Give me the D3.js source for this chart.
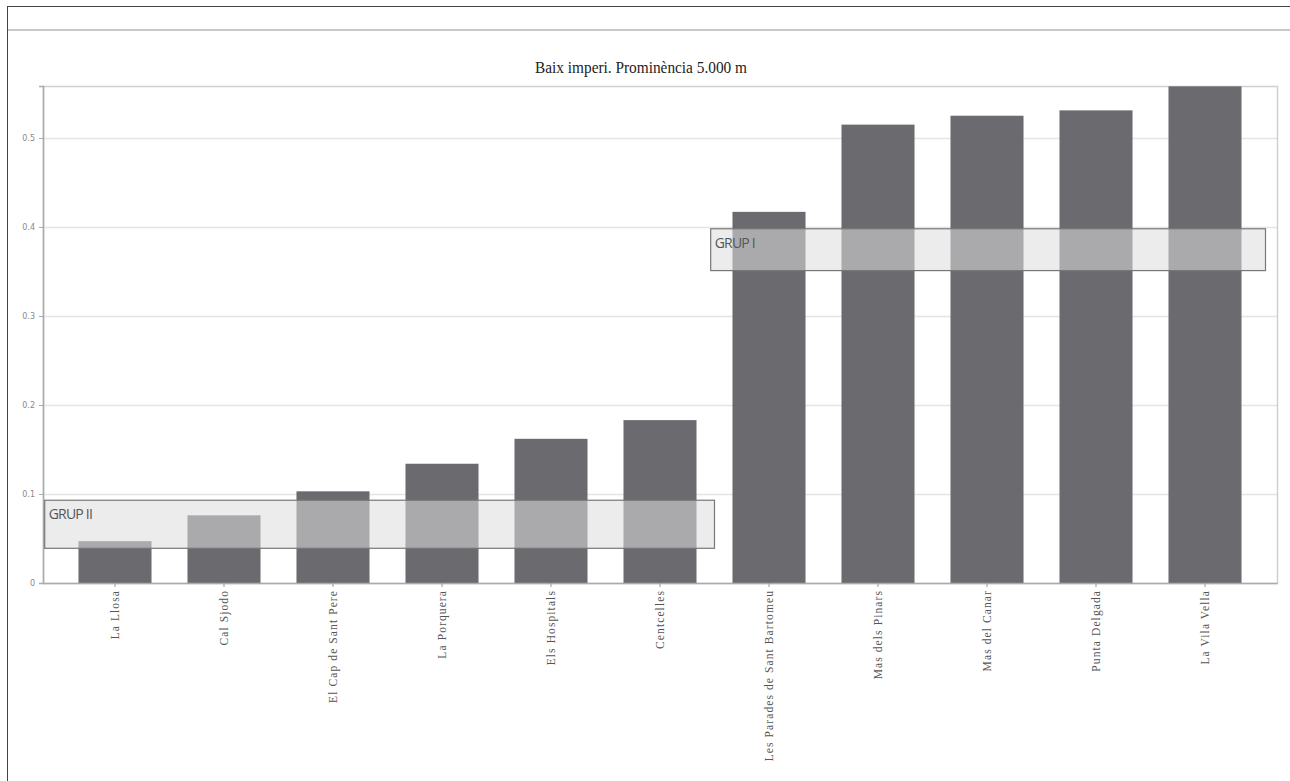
<!DOCTYPE html>
<html><head><meta charset="utf-8">
<script src="https://cdn.jsdelivr.net/npm/d3@7"></script>
<style>body{margin:0;background:#fff}svg{display:block}</style>
</head><body>
<script>
const categories = ["La Llosa","Cal Sjodo","El Cap de Sant Pere","La Porquera","Els Hospitals","Centcelles","Les Parades de Sant Bartomeu","Mas dels Pinars","Mas del Canar","Punta Delgada","La Vila Vella"];
const values = [0.047,0.076,0.103,0.134,0.162,0.183,0.417,0.515,0.525,0.531,0.558];
const yTicks = [0,0.1,0.2,0.3,0.4,0.5];
const groupLabels = ["GRUP II","GRUP I"];
const groupFrom = ["La Llosa","Les Parades de Sant Bartomeu"];
const groupTo = ["Centcelles","La Vila Vella"];
const groupLow = [0.039,0.351];
const groupHigh = [0.093,0.398];
const title = "Baix imperi. Prominència 5.000 m";

const W=1290,H=781;
const svg=d3.select("body").append("svg").attr("width",W).attr("height",H);
// outer frame
svg.append("line").attr("x1",7).attr("x2",W).attr("y1",6.5).attr("y2",6.5).attr("stroke","#444").attr("stroke-width",1);
svg.append("line").attr("x1",7.5).attr("x2",7.5).attr("y1",6).attr("y2",H).attr("stroke","#444").attr("stroke-width",1);
svg.append("line").attr("x1",8).attr("x2",W).attr("y1",30).attr("y2",30).attr("stroke","#c8c8c8").attr("stroke-width",2);

const L=43,R=1277,T=86,B=583;
const x=d3.scaleBand().domain(categories).range([L,R]).paddingInner(0.33).paddingOuter(0.3255);
const y=d3.scaleLinear().domain([0,0.5584]).range([B,T]);

svg.append("text").attr("x",641).attr("y",73).attr("text-anchor","middle")
  .attr("font-family","Liberation Serif, serif").attr("font-size",16).attr("fill","#222")
  .attr("textLength",212).attr("lengthAdjust","spacingAndGlyphs").text(title);

// grid
svg.append("g").selectAll("line").data(yTicks.filter(d=>d>0)).join("line")
  .attr("x1",L).attr("x2",R).attr("y1",d=>Math.round(y(d))+0.5).attr("y2",d=>Math.round(y(d))+0.5)
  .attr("stroke","#e4e4e4").attr("stroke-width",1.5);
// frame
svg.append("rect").attr("x",L+0.5).attr("y",T+0.5).attr("width",R-L).attr("height",B-T)
  .attr("fill","none").attr("stroke","#d0d0d0").attr("stroke-width",1.5);

// bars
svg.append("g").selectAll("rect").data(categories).join("rect")
  .attr("x",d=>x(d)).attr("width",x.bandwidth())
  .attr("y",(d,i)=>y(values[i])).attr("height",(d,i)=>B-y(values[i]))
  .attr("fill","#6a6a6f");

// y axis
const ya=svg.append("g").attr("transform",`translate(${L},0)`)
  .call(d3.axisLeft(y).tickValues(yTicks).tickSize(4).tickPadding(4).tickFormat(d=>d===0?"0":d3.format(".1f")(d)));
ya.select(".domain").attr("stroke","#aaa").attr("stroke-width",1.5);
ya.selectAll(".tick line").attr("stroke","#aaa");
ya.selectAll("text").attr("font-family","DejaVu Sans, sans-serif").attr("font-size",8).attr("fill","#888");

// x axis
const xa=svg.append("g").attr("transform",`translate(0,${B})`).call(d3.axisBottom(x).tickSize(4).tickSizeOuter(0).tickPadding(3));
xa.select(".domain").attr("stroke","#aaa").attr("stroke-width",1.5);
xa.selectAll(".tick line").attr("stroke","#999");
xa.selectAll("text").attr("transform","rotate(-90)").attr("text-anchor","end")
  .attr("x",-7).attr("y",0).attr("dy","0.35em").attr("dx",0)
  .attr("font-family","Liberation Serif, serif").attr("font-size",11.5).attr("letter-spacing",1.1).attr("fill","#555");

// group boxes
const step=x.step();
const padL=[0.31,0.2],padR=[0.165,0.22];
const g=svg.append("g");
groupLabels.forEach((lab,i)=>{
  const x0=x(groupFrom[i])-padL[i]*step, x1=x(groupTo[i])+x.bandwidth()+padR[i]*step;
  const y0=y(groupHigh[i]), y1=y(groupLow[i]);
  g.append("rect").attr("x",x0).attr("y",y0).attr("width",x1-x0).attr("height",y1-y0)
    .attr("fill","rgb(221,221,221)").attr("fill-opacity",0.56)
    .attr("stroke","#777").attr("stroke-width",1.2);
  g.append("text").attr("x",x0+4).attr("y",y0+19).attr("font-family","Open Sans, sans-serif")
    .attr("font-size",14).attr("fill","#555").attr("letter-spacing",-0.8).text(lab);
});
</script>
</body></html>
